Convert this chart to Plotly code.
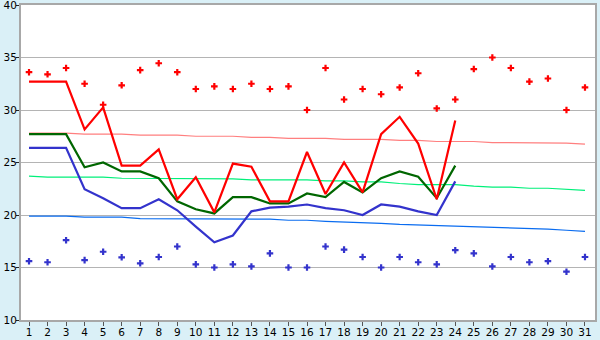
import plotly.graph_objects as go

days = list(range(1, 32))
days_obs = list(range(1, 25))

tmax_obs = [32.7, 32.7, 32.7, 28.15, 30.25, 24.7, 24.7, 26.25, 21.5, 23.6,
            20.25, 24.9, 24.6, 21.3, 21.3, 26.0, 22.0, 25.0, 22.15, 27.7,
            29.35, 26.8, 21.5, 29.0]
tmean_obs = [27.7, 27.7, 27.7, 24.55, 25.0, 24.15, 24.15, 23.5, 21.3, 20.55,
             20.15, 21.7, 21.7, 21.1, 21.1, 22.05, 21.7, 23.15, 22.15, 23.5,
             24.15, 23.65, 21.6, 24.7]
tmin_obs = [26.4, 26.4, 26.4, 22.45, 21.6, 20.65, 20.65, 21.5, 20.45, 18.9,
            17.4, 18.05, 20.35, 20.7, 20.8, 21.0, 20.65, 20.45, 20.0, 21.0,
            20.8, 20.35, 20.0, 23.2]

rec_max = [33.6, 33.4, 34.0, 32.5, 30.5, 32.35, 33.8, 34.45, 33.6, 32.0,
           32.25, 32.0, 32.5, 32.0, 32.25, 30.0, 34.0, 31.0, 32.0, 31.5,
           32.15, 33.5, 30.15, 31.0, 33.9, 35.0, 34.0, 32.7, 33.0, 30.0, 32.15]
rec_min = [15.6, 15.5, 17.6, 15.7, 16.5, 15.97, 15.4, 16.0, 17.0, 15.3,
           15.0, 15.3, 15.1, 16.35, 15.0, 15.0, 17.0, 16.7, 16.0, 15.0,
           16.0, 15.5, 15.3, 16.65, 16.35, 15.1, 16.0, 15.5, 15.6, 14.6, 16.0]

norm_max = [27.8, 27.8, 27.8, 27.7, 27.7, 27.7, 27.6, 27.6, 27.6, 27.5,
            27.5, 27.5, 27.4, 27.4, 27.3, 27.3, 27.3, 27.2, 27.2, 27.2,
            27.1, 27.1, 27.0, 27.0, 27.0, 26.9, 26.9, 26.9, 26.85, 26.85, 26.75]
norm_mean = [23.7, 23.6, 23.6, 23.6, 23.6, 23.5, 23.5, 23.5, 23.45, 23.45,
             23.45, 23.45, 23.35, 23.35, 23.35, 23.35, 23.25, 23.25, 23.15, 23.15,
             23.0, 22.9, 22.9, 22.9, 22.75, 22.65, 22.65, 22.55, 22.55, 22.45, 22.35]
norm_min = [19.9, 19.9, 19.9, 19.8, 19.8, 19.8, 19.65, 19.65, 19.65, 19.65,
            19.65, 19.65, 19.6, 19.6, 19.5, 19.5, 19.4, 19.35, 19.3, 19.2,
            19.1, 19.05, 19.0, 18.95, 18.9, 18.85, 18.75, 18.7, 18.65, 18.55, 18.45]

y_ticks = [10, 15, 20, 25, 30, 35, 40]

fig = go.Figure()
fig.add_trace(go.Scatter(x=days, y=norm_max, mode="lines",
                         line=dict(color="#ff7f7f", width=1.2)))
fig.add_trace(go.Scatter(x=days, y=norm_mean, mode="lines",
                         line=dict(color="#00f07a", width=1.2)))
fig.add_trace(go.Scatter(x=days, y=norm_min, mode="lines",
                         line=dict(color="#0a6cf0", width=1.2)))
fig.add_trace(go.Scatter(x=days_obs, y=tmin_obs, mode="lines",
                         line=dict(color="#3333cc", width=2.2)))
fig.add_trace(go.Scatter(x=days_obs, y=tmean_obs, mode="lines",
                         line=dict(color="#006600", width=2.2)))
fig.add_trace(go.Scatter(x=days_obs, y=tmax_obs, mode="lines",
                         line=dict(color="#ff0000", width=2.2)))
fig.add_trace(go.Scatter(x=days, y=rec_max, mode="markers",
                         marker=dict(symbol="cross", size=5.5, color="#ff0000",
                                     line=dict(width=0))))
fig.add_trace(go.Scatter(x=days, y=rec_min, mode="markers",
                         marker=dict(symbol="cross", size=5.5, color="#3333cc",
                                     line=dict(width=0))))

fig.update_layout(
    width=600, height=340,
    margin=dict(l=21, r=5, t=5, b=20),
    paper_bgcolor="#daf0f7",
    plot_bgcolor="#ffffff",
    showlegend=False,
    font=dict(family="DejaVu Sans", size=11, color="#000000"),
)
fig.update_xaxes(
    range=[0.568, 31.54], tickmode="array", tickvals=days,
    ticktext=[str(d) for d in days],
    showgrid=False, zeroline=False, automargin=False,
    showline=True, linecolor="#a8a8a8", linewidth=2, mirror=True,
    ticks="outside", ticklen=4, tickcolor="#555555", tickwidth=1,
    tickfont=dict(size=10.5), ticklabelstandoff=-3,
    ticklabeloverflow="allow",
)
fig.update_yaxes(
    range=[10, 40], tickmode="array", tickvals=y_ticks,
    ticktext=[str(v) for v in y_ticks],
    showgrid=True, gridcolor="#b4b4b4", gridwidth=1, zeroline=False,
    automargin=False,
    showline=True, linecolor="#a8a8a8", linewidth=2, mirror=True,
    ticks="outside", ticklen=3, tickcolor="#222222", tickwidth=1,
    tickfont=dict(size=10.5), ticklabelstandoff=-3,
    ticklabeloverflow="allow",
)

fig.write_html("out.html")
